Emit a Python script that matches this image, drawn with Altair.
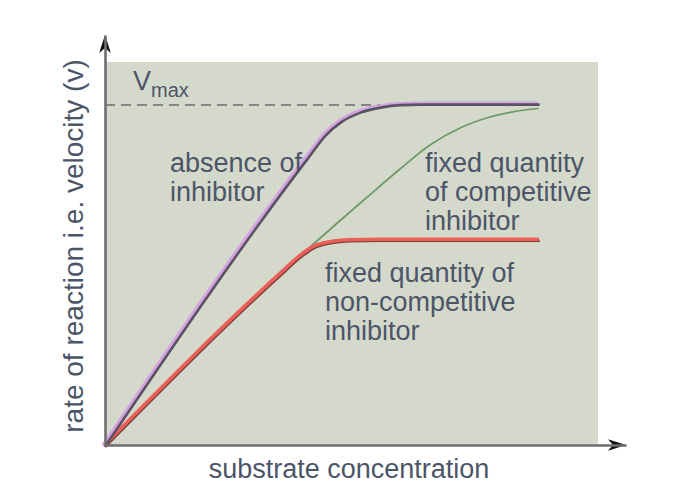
import altair as alt
import pandas as pd

# ---- data (x = substrate concentration, y = rate, arbitrary units) ----
absence_x = [0, 20.3, 22.0, 23.5, 25.5, 27.5, 29.5, 31.5, 43.3]
absence_y = [0, 28.8, 31.0, 32.3, 33.3, 33.8, 34.05, 34.1, 34.1]

competitive_x = [0, 17.5, 19.5, 26.0, 29.5, 32.5, 35.5, 38.5, 41.0, 43.3]
competitive_y = [0, 17.1, 18.9, 24.6, 27.6, 30.0, 31.7, 32.8, 33.35, 33.65]

noncomp_x = [0, 17.5, 19.5, 20.8, 22.5, 24.5, 27.5, 43.3]
noncomp_y = [0, 17.1, 18.9, 19.8, 20.3, 20.5, 20.55, 20.55]

vmax = 34.0

label_absence = ["absence of", "inhibitor"]
label_comp = ["fixed quantity", "of competitive", "inhibitor"]
label_noncomp = ["fixed quantity of", "non-competitive", "inhibitor"]
x_title = "substrate concentration"
y_title = "rate of reaction i.e. velocity (v)"

# ---- build tables ----
def series(name, xs, ys):
    return pd.DataFrame({"series": name, "x": xs, "y": ys, "i": range(len(xs))})

curves = pd.concat([
    series("absence", absence_x, absence_y),
    series("competitive", competitive_x, competitive_y),
    series("noncomp", noncomp_x, noncomp_y),
])

XMAX, YMAX = 52.1, 41.0
xs = alt.Scale(domain=[0, XMAX], nice=False, zero=False)
ys = alt.Scale(domain=[0, YMAX], nice=False, zero=False)

AX = dict(title=None, labels=False, ticks=False, grid=False, domain=True,
          domainColor="#6e6e6e", domainWidth=2.6, zindex=1)

def X(f="x"):
    return alt.X(f"{f}:Q", scale=xs, axis=alt.Axis(**AX))

def Y(f="y"):
    return alt.Y(f"{f}:Q", scale=ys, axis=alt.Axis(**AX))

TEXT = "#4c5568"
FONT = "Liberation Sans"

bg = alt.Chart(pd.DataFrame({"x": [0], "x2": [49.3], "y": [0], "y2": [38.3]})).mark_rect(
    color="#d4d9cc"
).encode(x=X(), x2="x2:Q", y=Y(), y2="y2:Q")

dash = alt.Chart(pd.DataFrame({"x": [0], "x2": [31.0], "y": [vmax]})).mark_rule(
    color="#6a6a6a", strokeWidth=1.6, strokeDash=[10, 6]
).encode(x=X(), x2="x2:Q", y=Y())

def line(name, color, width, dx=0, dy=0):
    return alt.Chart(curves).transform_filter(alt.datum.series == name).mark_line(
        color=color, strokeWidth=width, interpolate="monotone", xOffset=dx, yOffset=dy,
        strokeCap="round"
    ).encode(x=X(), y=Y(), order="i:Q")

green = line("competitive", "#6b9a66", 1.7)
red_dark = line("noncomp", "#7a3a38", 2.2, 0.8, 1.4)
red = line("noncomp", "#ea6058", 3.6, -0.3, -0.3)
purple_light = line("absence", "#d4a2e0", 3.2, -1.2, -1.0)
purple_dark = line("absence", "#5a5264", 2.6, 0.6, 0.6)

def text_layer(lines, x, y0, step=2.9, size=27):
    df = pd.DataFrame({"t": lines, "x": [x] * len(lines),
                       "y": [y0 - k * step for k in range(len(lines))]})
    return alt.Chart(df).mark_text(
        align="left", baseline="alphabetic", font=FONT, fontSize=size, color=TEXT
    ).encode(x=X(), y=Y(), text="t:N")

t_abs = text_layer(label_absence, 6.5, 27.3)
t_comp = text_layer(label_comp, 32.0, 27.3)
t_non = text_layer(label_noncomp, 22.0, 16.3)

v_big = alt.Chart(pd.DataFrame({"t": ["V"], "x": [2.8], "y": [35.5]})).mark_text(
    align="left", baseline="alphabetic", font=FONT, fontSize=27, color=TEXT
).encode(x=X(), y=Y(), text="t:N")
v_sub = alt.Chart(pd.DataFrame({"t": ["max"], "x": [4.6], "y": [34.8]})).mark_text(
    align="left", baseline="alphabetic", font=FONT, fontSize=20, color=TEXT
).encode(x=X(), y=Y(), text="t:N")

xt = alt.Chart(pd.DataFrame({"t": [x_title], "x": [24.4], "y": [-3.3]})).mark_text(
    align="center", baseline="alphabetic", font=FONT, fontSize=27, color=TEXT
).encode(x=X(), y=Y(), text="t:N")
yt = alt.Chart(pd.DataFrame({"t": [y_title], "x": [-2.2], "y": [19.9]})).mark_text(
    align="center", baseline="alphabetic", font=FONT, fontSize=28, color=TEXT, angle=270
).encode(x=X(), y=Y(), text="t:N")

arrow_right = "M 0 0 L -2 -0.65 L -1.45 0 L -2 0.65 Z"
arrow_up = "M 0 0 L -0.65 2 L 0 1.45 L 0.65 2 Z"
ax_arrow = alt.Chart(pd.DataFrame({"x": [XMAX], "y": [0]})).mark_point(
    shape=arrow_right, filled=True, size=324, color="#111111", opacity=1
).encode(x=X(), y=Y())
ay_arrow = alt.Chart(pd.DataFrame({"x": [0], "y": [YMAX]})).mark_point(
    shape=arrow_up, filled=True, size=324, color="#111111", opacity=1
).encode(x=X(), y=Y())

chart = alt.layer(
    bg, dash, green, red_dark, red, purple_light, purple_dark,
    t_abs, t_comp, t_non, v_big, v_sub, xt, yt, ax_arrow, ay_arrow
).properties(
    width=521, height=410,
    autosize=alt.AutoSizeParams(type="none"),
    padding={"left": 97, "top": 27, "right": 40, "bottom": 40},
    background="white",
).configure_view(stroke=None)

chart.save("out.html", embed_options={"renderer": "svg", "actions": False})
